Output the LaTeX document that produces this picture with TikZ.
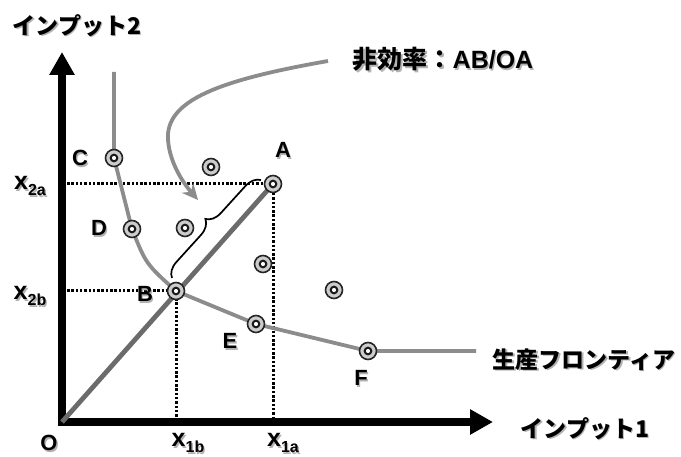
\documentclass[tikz,border=0pt]{standalone}
\usepackage{fontspec}
\setmainfont{Liberation Sans}
\newfontfamily\jp{Noto Sans CJK JP}
\usetikzlibrary{arrows.meta,decorations.pathreplacing}
\newcommand{\shd}[1]{\rlap{\kern1.4pt\raisebox{-1.4pt}{\textcolor{black!30}{#1}}}#1}
\newcommand{\sub}[1]{\raisebox{-6pt}{\fontsize{16}{16}\selectfont #1}}
\begin{document}
\begin{tikzpicture}[x=1pt,y=-1pt,
 lbl/.style={font=\fontsize{22}{22}\selectfont\bfseries, inner sep=0pt},
 xlbl/.style={font=\fontsize{25}{25}\selectfont\bfseries, inner sep=0pt},
 jtxt/.style={font=\jp\fontsize{23}{23}\selectfont\bfseries, inner sep=0pt},
 ptmark/.style={circle, draw=black!85, line width=1.6pt, fill=black!20, minimum size=17pt, inner sep=0pt,
   path picture={\draw[black!90, line width=2pt, fill=white] (path picture bounding box.center) circle (3.3pt);}},
 guide/.style={line width=3pt, dash pattern=on 2.5pt off 1.8pt},
 front/.style={draw=black!45, line width=3.8pt},
 ray/.style={draw=black!58, line width=4.8pt},
 axisline/.style={line width=8pt, line join=miter, {Triangle[length=23pt,width=24pt]}-{Triangle[length=23pt,width=24pt]}}
]
\useasboundingbox (0,0) rectangle (681,457);
% coordinates
\coordinate (O) at (62,422);
\coordinate (ytip) at (62,52);
\coordinate (xtip) at (493,422);
\coordinate (pA) at (273,184);
\coordinate (pB) at (176,291);
\coordinate (pC) at (114,158);
\coordinate (pD) at (132,229);
\coordinate (pE) at (256,324);
\coordinate (pF) at (368,351);
\coordinate (x2aL) at (67,184);
\coordinate (x2bL) at (67,291);
\coordinate (x1bB) at (176,417);
\coordinate (x1aB) at (273,417);
\coordinate (ftop) at (114,72);
\coordinate (fend) at (476,351);
\coordinate (arrS) at (328,61);
\coordinate (arrE) at (198,200);
\coordinate (br1) at (172,278);
\coordinate (br2) at (261,180);
% axes
\draw[axisline] (ytip) -- (O) -- (xtip);
% guides
\draw[guide] (x2aL) -- (pA) -- (x1aB);
\draw[guide] (x2bL) -- (pB) -- (x1bB);
% ray
\draw[ray] (O) -- (pA);
% frontier
\draw[front] (ftop) -- (pC) -- (pD) .. controls (146,264) .. (pB) -- (pE) -- (pF) -- (fend);
% curved arrow
\draw[front, -{Stealth[length=16pt,width=15pt]}] (arrS) .. controls (220,80) and (165,100) .. (168,140) .. controls (170,165) and (185,185) .. (arrE);
% brace
\draw[line width=1.7pt, decorate, decoration={brace, amplitude=15pt}] (br1) -- (br2);
% points
\node[ptmark] (A) at (pA) {};
\node[ptmark] (B) at (pB) {};
\node[ptmark] (C) at (pC) {};
\node[ptmark] (D) at (pD) {};
\node[ptmark] (E) at (pE) {};
\node[ptmark] (F) at (pF) {};
\node[ptmark] (p1) at (211,167) {};
\node[ptmark] (p2) at (185,228) {};
\node[ptmark] (p3) at (263,264) {};
\node[ptmark] (p4) at (334,290) {};
% labels
\node[lbl] (lA) at (283,151) {\shd{A}};
\node[lbl] (lB) at (145,295) {\shd{B}};
\node[lbl] (lC) at (80,159) {\shd{C}};
\node[lbl] (lD) at (99,229) {\shd{D}};
\node[lbl] (lE) at (230,342) {\shd{E}};
\node[lbl] (lF) at (361,379) {\shd{F}};
\node[lbl] (lO) at (49,444) {\shd{O}};
\node[xlbl] (l2a) at (30,187) {\shd{x\sub{2a}}};
\node[xlbl] (l2b) at (30,297) {\shd{x\sub{2b}}};
\node[xlbl] (l1b) at (188,444) {\shd{x\sub{1b}}};
\node[xlbl] (l1a) at (283,444) {\shd{x\sub{1a}}};
\node[jtxt] (ylab) at (77,26) {\shd{インプット2}};
\node[jtxt] (xlab) at (585,429) {\shd{インプット1}};
\node[jtxt] (flab) at (584,360) {\shd{生産フロンティア}};
\node[jtxt, font=\jp\fontsize{25}{25}\selectfont\bfseries] (ilab) at (443,60) {\shd{非効率：\rmfamily AB/OA}};
\end{tikzpicture}
\end{document}
